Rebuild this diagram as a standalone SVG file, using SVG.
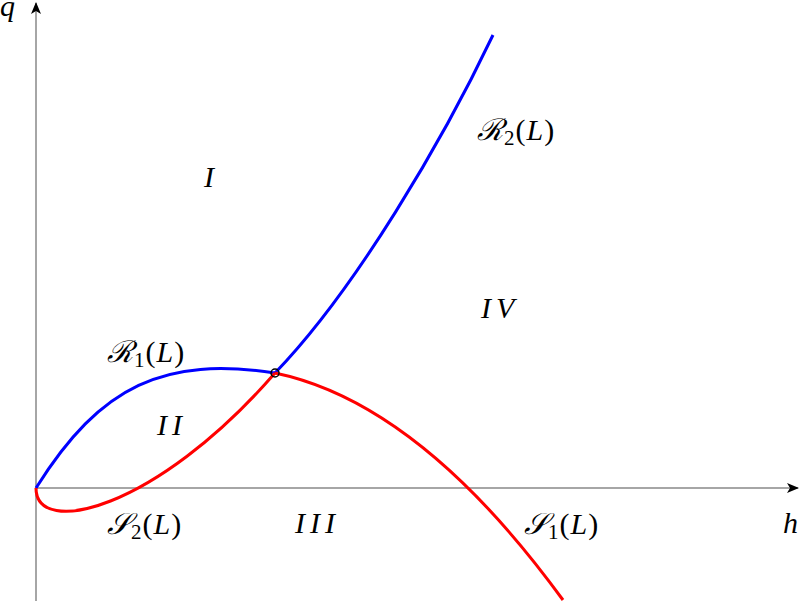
<svg xmlns="http://www.w3.org/2000/svg" width="800" height="601" viewBox="0 0 800 601">
<style>
.ax{stroke:#888;stroke-width:1.5;fill:none}
.b{stroke:#0000ff;stroke-width:3;fill:none}
.r{stroke:#ff0000;stroke-width:3;fill:none}
text{font-family:"Liberation Serif","DejaVu Serif",serif;font-style:italic;font-size:30px;fill:#000}
.n{font-style:normal}
.sub{font-style:normal;font-size:21px}
.roman{letter-spacing:5px}
.cal{letter-spacing:1px}
</style>
<defs>
<marker id="arr" viewBox="0 0 12 10" refX="11" refY="5" markerWidth="12" markerHeight="10" markerUnits="userSpaceOnUse" orient="auto">
<path d="M0,0 L12,5 L0,10 L3,5 Z" fill="#000"/>
</marker>
</defs>
<g id="axes">
<line class="ax" x1="36" y1="601" x2="36" y2="3" marker-end="url(#arr)"/>
<line class="ax" x1="36" y1="488" x2="798" y2="488" marker-end="url(#arr)"/>
</g>
<g id="connectors">
<path class="b" d="M36,488 C101,384 165,356.5 275,373"/>
<path class="b" d="M275,373 C356,289 443,140 493,35"/>
<path class="r" d="M36,488 C36,538 155,511 275,373"/>
<path class="r" d="M275,373 Q419.5,403 563,600"/>
<circle cx="275" cy="373" r="4" fill="none" stroke="#000" stroke-width="1.5"/>
</g>
<g id="labels">
<text x="0" y="16">q</text>
<text x="783" y="533">h</text>
<text x="204" y="187">I</text>
<text x="477" y="140" class="cal">ℛ<tspan class="sub" dy="5">2</tspan><tspan class="n" dy="-5">(</tspan>L<tspan class="n">)</tspan></text>
<text x="481" y="318" class="roman">IV</text>
<text x="107" y="362" class="cal">ℛ<tspan class="sub" dy="5">1</tspan><tspan class="n" dy="-5">(</tspan>L<tspan class="n">)</tspan></text>
<text x="157" y="435" class="roman">II</text>
<text x="107" y="534" class="cal">𝒮<tspan class="sub" dy="5">2</tspan><tspan class="n" dy="-5">(</tspan>L<tspan class="n">)</tspan></text>
<text x="295" y="533" class="roman">III</text>
<text x="524" y="534" class="cal">𝒮<tspan class="sub" dy="5">1</tspan><tspan class="n" dy="-5">(</tspan>L<tspan class="n">)</tspan></text>
</g>
</svg>
